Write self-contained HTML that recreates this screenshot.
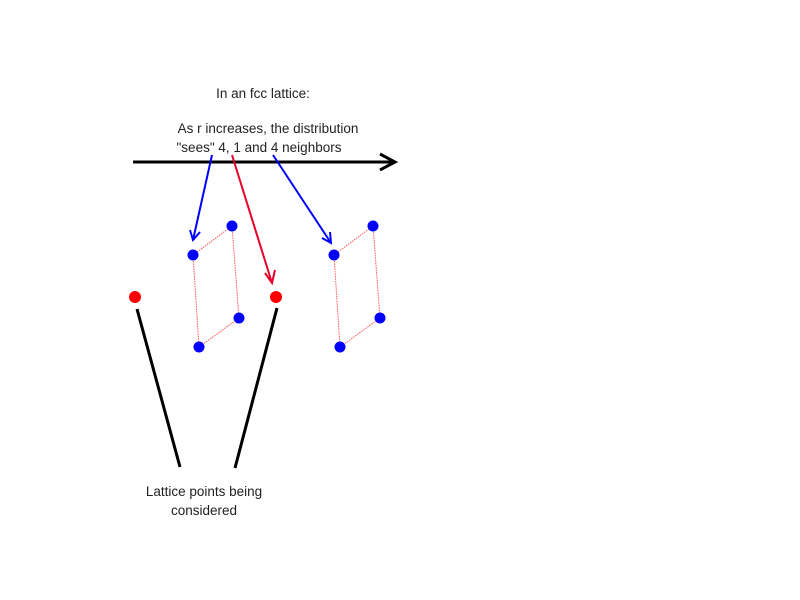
<!DOCTYPE html>
<html><head><style>body{margin:0;background:#fff}svg{display:block}</style></head><body>
<svg width="800" height="600" xmlns="http://www.w3.org/2000/svg" font-family="Liberation Sans, sans-serif" font-size="13.5" fill="#222">
<text x="263" y="98" text-anchor="middle">In an fcc lattice:</text>
<text x="268" y="133" text-anchor="middle">As r increases, the distribution</text>
<text x="259" y="152" text-anchor="middle">"sees" 4, 1 and 4 neighbors</text>
<line x1="133" y1="162" x2="395" y2="162" stroke="#000" stroke-width="3"/>
<polyline points="380,154 395,162 380,170" fill="none" stroke="#000" stroke-width="3"/>
<g stroke="#00f" stroke-width="2" fill="none">
<line x1="212" y1="155" x2="193" y2="240"/><polyline points="190,230 193,240 200,232"/>
<line x1="273" y1="155" x2="331" y2="243"/><polyline points="322,238 331,243 330,232"/>
</g>
<g stroke="#e8002a" stroke-width="2" fill="none">
<line x1="232" y1="155" x2="272" y2="283"/><polyline points="265,273 272,283 275,270"/>
</g>
<g stroke="#f55" stroke-width="1" stroke-dasharray="1.5,1">
<polygon points="193,255 232,226 239,318 199,347" fill="none"/>
<polygon points="334,255 373,226 380,318 340,347" fill="none"/>
</g>
<g fill="#00f">
<circle cx="193" cy="255" r="5.5"/><circle cx="232" cy="226" r="5.5"/><circle cx="239" cy="318" r="5.5"/><circle cx="199" cy="347" r="5.5"/>
<circle cx="334" cy="255" r="5.5"/><circle cx="373" cy="226" r="5.5"/><circle cx="380" cy="318" r="5.5"/><circle cx="340" cy="347" r="5.5"/>
</g>
<circle cx="135" cy="297" r="6" fill="#f00"/><circle cx="276" cy="297" r="6" fill="#f00"/>
<line x1="137" y1="309" x2="180" y2="467" stroke="#000" stroke-width="3"/>
<line x1="277" y1="308" x2="235" y2="468" stroke="#000" stroke-width="3"/>
<text x="204" y="496" text-anchor="middle">Lattice points being</text>
<text x="204" y="515" text-anchor="middle">considered</text>
</svg>
</body></html>
